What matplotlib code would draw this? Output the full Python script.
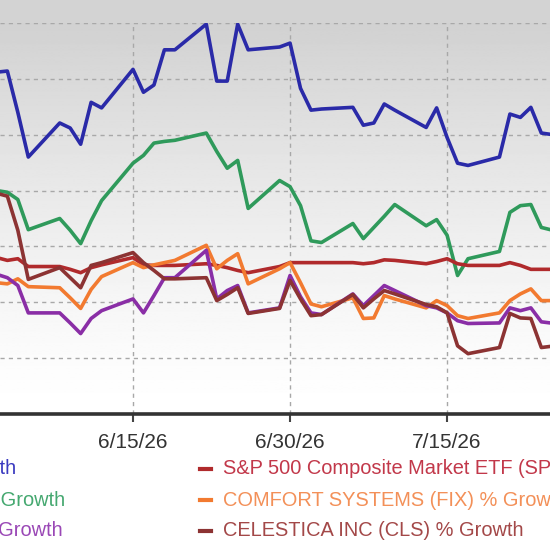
import numpy as np
import pandas as pd
import matplotlib
matplotlib.use('Agg')
import matplotlib.pyplot as plt
import matplotlib.dates as mdates
from matplotlib.lines import Line2D
from matplotlib.patches import Rectangle

# business days shown in the chart
dates = pd.bdate_range('2026-06-01', '2026-07-27')

# % growth values
blue = [40.7, 41.2, 41.4, 34.0, 26.0,
        32.1, 31.2, 28.3, 35.8, 34.8,
        41.7, 37.6, 38.9, 45.2, 45.2,
        49.8, 39.6, 39.6, 49.8, 45.2,
        45.7, 46.4, 38.3, 34.4, 34.6,
        34.9, 31.7, 32.1, 35.5, 34.4,
        31.3, 34.8, 29.5, 24.9, 24.5,
        26.0, 33.7, 33.1, 34.9, 30.3,
        29.5]
green = [20.2, 20.0, 19.7, 18.4, 13.0,
         15.0, 12.9, 10.5, 14.6, 18.2,
         24.9, 26.3, 28.5, 28.8, 29.0,
         30.3, 27.0, 24.0, 25.4, 16.8,
         21.8, 20.7, 17.3, 11.0, 10.7,
         14.1, 11.4, 13.4, 15.4, 17.5,
         13.7, 14.8, 12.0, 4.8, 7.8,
         9.1, 16.1, 17.3, 17.5, 13.4,
         12.0]
spy = [8.2, 8.0, 7.5, 7.8, 6.4,
       6.4, 5.9, 5.3, 6.2, 6.7,
       8.0, 6.7, 6.6, 6.6, 6.6,
       6.9, 6.6, 6.2, 5.7, 5.3,
       6.4, 7.1, 7.1, 7.1, 7.1,
       7.1, 6.9, 7.1, 7.6, 7.5,
       6.9, 7.3, 7.8, 6.9, 6.6,
       6.6, 7.1, 6.6, 5.9, 5.9,
       5.9]
fix = [3.7, 3.5, 3.3, 4.2, 2.8,
       2.6, 0.8, -1.1, 2.3, 4.6,
       7.1, 6.2, 6.7, 7.1, 7.5,
       10.2, 6.0, 7.5, 8.7, 3.3,
       6.0, 7.1, 3.5, -0.3, -0.8,
       0.8, -2.9, -2.8, 1.2, 0.6,
       -1.0, 0.3, -0.6, -2.4, -2.9,
       -1.9, 0.3, 1.5, 2.4, 0.3,
       0.3]
purple = [5.3, 5.0, 4.4, 3.0, -1.9,
          -1.9, -3.7, -5.6, -2.9, -1.5,
          0.6, -1.9, 1.2, 4.4, 4.4,
          9.3, 0.6, 2.1, 3.0, -1.9,
          -1.0, 4.8, 1.0, -1.9, -2.2,
          1.5, -0.6, 1.2, 3.0, 2.1,
          -0.6, -1.0, -1.9, -3.3, -3.8,
          -3.7, -1.0, -1.5, -1.0, -3.5,
          -4.2]
cls = [20.4, 19.5, 19.0, 12.9, 4.1,
       6.2, 4.4, 2.6, 6.6, 7.1,
       8.9, 7.1, 5.7, 4.2, 4.2,
       4.4, 0.3, 1.4, 2.6, -2.0,
       -1.1, 3.9, 0.6, -2.4, -2.2,
       1.4, -1.0, 0.6, 2.1, 1.5,
       -0.4, -0.8, -1.9, -7.8, -9.2,
       -8.1, -2.0, -2.8, -2.9, -8.1,
       -7.4]

tick_dates = ['2026-06-15', '2026-06-30', '2026-07-15']
tick_labels = ['6/15/26', '6/30/26', '7/15/26']

left_names = ['EMCOR GROUP (EME) % Growth',
              'PRIMORIS SERVICES (PRIM) % Growth',
              'STERLING INFRA (STRL) % Growth']
right_names = ['S&P 500 Composite Market ETF (SPY) % Growth',
               'COMFORT SYSTEMS (FIX) % Growth',
               'CELESTICA INC (CLS) % Growth']

W, H = 550, 549
fig = plt.figure(figsize=(5.5, 5.49), dpi=100, facecolor='white')

# gray strip above the plot area
fig.patches.append(Rectangle((0, 1 - 23 / H), 1, 23 / H, transform=fig.transFigure,
                             facecolor='#d3d3d3', edgecolor='none', zorder=0))

ax = fig.add_axes([0, 1 - 414 / H, 1, 391 / H])
ax.set_facecolor('white')

# vertical gradient background
t = np.linspace(0, 1, 256).reshape(-1, 1)
grad = 1.0 - 0.18 * t ** 1.3
ax.imshow(grad, extent=[0, 1, 0, 1], transform=ax.transAxes, origin='lower',
          aspect='auto', cmap='gray', vmin=0, vmax=1, zorder=0)

x = mdates.date2num(dates)
ax.plot(x, blue, color='#2a2aa8', lw=2.6, zorder=3)
ax.plot(x, green, color='#2f9a5b', lw=2.6, zorder=3)
ax.plot(x, spy, color='#b02a2c', lw=2.6, zorder=3)
ax.plot(x, fix, color='#f27a30', lw=2.6, zorder=3)
ax.plot(x, purple, color='#8a2ea6', lw=2.6, zorder=3)
ax.plot(x, cls, color='#8c3333', lw=2.6, zorder=3)

x15 = mdates.date2num(pd.Timestamp('2026-06-15'))
ax.set_xlim(x15 - 133 / 10.47, x15 + 417 / 10.47)
ax.set_ylim(-20, 50)

ax.set_yticks(np.arange(-20, 51, 10))
ax.tick_params(axis='y', left=False, labelleft=False)
ax.set_xticks(mdates.date2num(pd.to_datetime(tick_dates)))
ax.set_xticklabels(tick_labels, fontsize=15, family='Liberation Sans', color='#333333')
ax.tick_params(axis='x', length=6, width=1.5, color='#444444', pad=8)

ax.grid(True, axis='both', color='#a8a8a8', linestyle=(0, (3, 3)), lw=1.0, zorder=1)
for s in ['top', 'left', 'right']:
    ax.spines[s].set_visible(False)
ax.spines['bottom'].set_color('#333333')
ax.spines['bottom'].set_linewidth(2.6)

# legend, two columns, partly cut by the picture edge
rows_y = [469, 500, 531]
left_ends = [16, 65, 63]
left_cols = ['#3a3ac0', '#45a870', '#9a48b6']
right_cols = ['#c2384a', '#f39058', '#a34848']
line_cols = ['#b02a2c', '#f27a30', '#8c3333']
for i in range(3):
    yy = 1 - rows_y[i] / H
    fig.text(left_ends[i] / W, yy, left_names[i], ha='right', va='center',
             fontsize=14.4, family='Liberation Sans', color=left_cols[i])
    fig.text(223 / W, yy, right_names[i], ha='left', va='center',
             fontsize=14.4, family='Liberation Sans', color=right_cols[i])
    fig.add_artist(Line2D([200 / W, 211 / W], [yy, yy], transform=fig.transFigure,
                          color=line_cols[i], lw=3))

fig.savefig('out.png', dpi=100, facecolor=fig.get_facecolor())
